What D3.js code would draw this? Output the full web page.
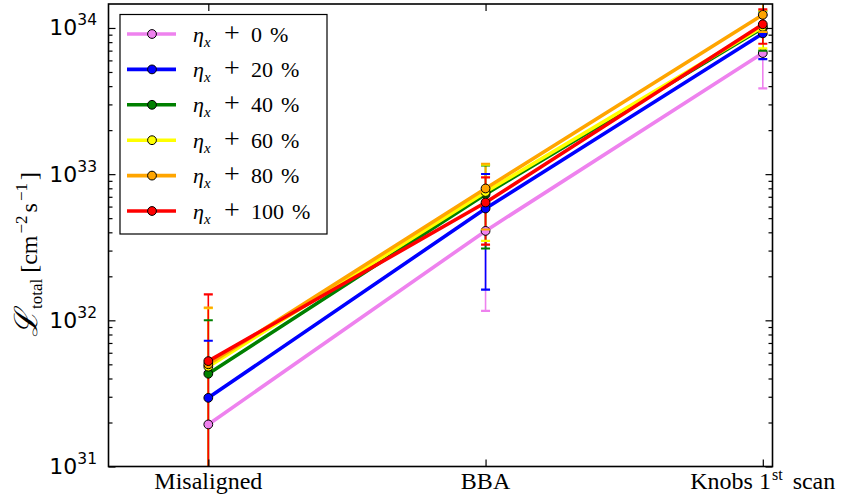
<!DOCTYPE html>
<html><head><meta charset="utf-8">
<script src="https://cdn.jsdelivr.net/npm/d3@7"></script>
<style>body{margin:0;background:#fff} svg{display:block}</style>
</head><body><svg id="c" width="842" height="498"></svg>
<script>
// ---- data ----
const categories = ["Misaligned", "BBA", "Knobs 1st scan"];
const seriesLabels = ["0", "20", "40", "60", "80", "100"];
const seriesColors = ["#ee82ee", "#0000ff", "#008000", "#ffff00", "#ffa500", "#ff0000"];
const lum0   = [1.94e31, 4.09e32, 6.74e33];
const lum20  = [2.95e31, 5.82e32, 9.18e33];
const lum40  = [4.31e31, 7.30e32, 1.00e34];
const lum60  = [4.82e31, 7.55e32, 1.02e34];
const lum80  = [5.00e31, 7.98e32, 1.23e34];
const lum100 = [5.26e31, 6.40e32, 1.06e34];
const err0   = [2.5e31, 2.93e32, 2.88e33];
const err20  = [4.3e31, 4.20e32, 3.05e33];
const err40  = [5.7e31, 4.20e32, 3.00e33];
const err60  = [7.3e31, 4.05e32, 2.95e33];
const err80  = [7.2e31, 3.80e32, 2.90e33];
const err100 = [9.8e31, 3.10e32, 2.80e33];
const yMajorTicks = [1e31, 1e32, 1e33, 1e34];
const yTickExponents = ["31", "32", "33", "34"];

const values = [lum0, lum20, lum40, lum60, lum80, lum100];
const errors = [err0, err20, err40, err60, err80, err100];
const series = seriesLabels.map((l, i) => ({label: l, color: seriesColors[i],
  pts: categories.map((c, j) => ({i: j, v: values[i][j], e: errors[i][j]}))}));

// ---- layout ----
const L = 108.5, R = 772.5, T = 4, B = 466.5;
const svg = d3.select("#c");
const x = d3.scaleLinear().domain([-0.36, 2.035]).range([L, R]);
const y = d3.scaleLog().domain([1e31, Math.pow(10, 34.164)]).range([B, T]);

svg.append("defs").append("clipPath").attr("id", "clip")
  .append("rect").attr("x", L).attr("y", T).attr("width", R - L).attr("height", B - T);

const plot = svg.append("g").attr("clip-path", "url(#clip)");

// error bar stems (below everything)
series.forEach(s => {
  plot.append("g").selectAll("line").data(s.pts).join("line")
    .attr("x1", d => x(d.i)).attr("x2", d => x(d.i))
    .attr("y1", d => y(d.v + d.e))
    .attr("y2", d => d.v - d.e > 0 ? y(d.v - d.e) : B + 5)
    .attr("stroke", s.color).attr("stroke-width", 1.6);
});

const line = d3.line().x(d => x(d.i)).y(d => y(d.v));
series.forEach(s => {
  plot.append("path").datum(s.pts).attr("d", line)
    .attr("fill", "none").attr("stroke", s.color).attr("stroke-width", 3.6);
  plot.append("g").selectAll("circle").data(s.pts).join("circle")
    .attr("cx", d => x(d.i)).attr("cy", d => y(d.v)).attr("r", 4.4)
    .attr("fill", s.color).attr("stroke", "#000").attr("stroke-width", 1);
  const caps = [];
  s.pts.forEach(d => {
    caps.push({i: d.i, v: d.v + d.e});
    if (d.v - d.e > 0) caps.push({i: d.i, v: d.v - d.e});
  });
  plot.append("g").selectAll("line").data(caps).join("line")
    .attr("x1", d => x(d.i) - 4.5).attr("x2", d => x(d.i) + 4.5)
    .attr("y1", d => y(d.v)).attr("y2", d => y(d.v))
    .attr("stroke", s.color).attr("stroke-width", 2.2);
});

// ---- axes (inward ticks) ----
const minor = [];
for (let e = 31; e <= 34; e++) for (let k = 2; k <= 9; k++) {
  const v = k * Math.pow(10, e);
  if (v < y.domain()[1]) minor.push(v);
}
function styleAxis(g) { g.select(".domain").remove(); g.selectAll("line").attr("stroke", "#000").attr("stroke-width", 1.2); g.selectAll("text").remove(); }
svg.append("g").attr("transform", `translate(${L},0)`).call(d3.axisLeft(y).tickValues(yMajorTicks).tickSize(-7)).call(styleAxis);
svg.append("g").attr("transform", `translate(${L},0)`).call(d3.axisLeft(y).tickValues(minor).tickSize(-4)).call(styleAxis);
svg.append("g").attr("transform", `translate(${R},0)`).call(d3.axisRight(y).tickValues(yMajorTicks).tickSize(-7)).call(styleAxis);
svg.append("g").attr("transform", `translate(${R},0)`).call(d3.axisRight(y).tickValues(minor).tickSize(-4)).call(styleAxis);
svg.append("g").attr("transform", `translate(0,${B})`).call(d3.axisBottom(x).tickValues([0, 1, 2]).tickSize(-7)).call(styleAxis);
svg.append("g").attr("transform", `translate(0,${T})`).call(d3.axisTop(x).tickValues([0, 1, 2]).tickSize(-7)).call(styleAxis);

svg.append("rect").attr("x", L).attr("y", T).attr("width", R - L).attr("height", B - T)
  .attr("fill", "none").attr("stroke", "#000").attr("stroke-width", 1.6);

// y tick labels
yMajorTicks.forEach((v, k) => {
  const t = svg.append("text").attr("x", 97).attr("y", y(v) + 7.5)
    .attr("text-anchor", "end").attr("font-family", "DejaVu Sans").attr("font-size", 22).attr("fill", "#000");
  t.append("tspan").text("10");
  t.append("tspan").attr("font-size", 15.5).attr("dy", -10).text(yTickExponents[k]);
});

// x tick labels
const serif = "'Liberation Serif', 'DejaVu Serif', serif";
categories.forEach((c, j) => {
  const t = svg.append("text").attr("x", x(j)).attr("y", 489).attr("text-anchor", "middle")
    .attr("font-family", serif).attr("font-size", 24).attr("fill", "#000");
  if (c === "Knobs 1st scan") {
    t.append("tspan").text("Knobs 1");
    t.append("tspan").attr("font-size", 16).attr("dy", -9).attr("dx", 1).text("st");
    t.append("tspan").attr("dy", 9).attr("dx", 10).text("scan");
  } else t.text(c);
});

// y label
const yl = svg.append("text").attr("transform", "translate(37,337) rotate(-90)")
  .attr("text-anchor", "start").attr("font-family", serif).attr("font-size", 24).attr("fill", "#000");
yl.append("tspan").attr("font-style", "italic").attr("font-size", 32).text("\u2112");
yl.append("tspan").attr("font-size", 17).attr("dy", 5).attr("dx", 1).text("total");
yl.append("tspan").attr("dy", -5).attr("dx", 6).text("[cm");
yl.append("tspan").attr("font-size", 17).attr("dy", -10).attr("dx", 2).text("\u22122");
yl.append("tspan").attr("dy", 10).attr("dx", 3).text("s");
yl.append("tspan").attr("font-size", 17).attr("dy", -10).attr("dx", 2).text("\u22121");
yl.append("tspan").attr("dy", 10).attr("dx", 3).text("]");

// ---- legend ----
const lg = svg.append("g");
lg.append("rect").attr("x", 120).attr("y", 14.5).attr("width", 207).attr("height", 219.5)
  .attr("fill", "#fff").attr("stroke", "#000").attr("stroke-width", 1.2);
series.forEach((s, k) => {
  const cy = 34 + k * 35.4;
  lg.append("line").attr("x1", 127).attr("x2", 176).attr("y1", cy).attr("y2", cy)
    .attr("stroke", s.color).attr("stroke-width", 3.6);
  lg.append("circle").attr("cx", 152).attr("cy", cy).attr("r", 4.4)
    .attr("fill", s.color).attr("stroke", "#000").attr("stroke-width", 1);
  const t = lg.append("text").attr("x", 193).attr("y", cy + 7.5)
    .attr("font-family", serif).attr("font-size", 22).attr("fill", "#000");
  t.append("tspan").attr("font-style", "italic").text("\u03b7");
  t.append("tspan").attr("font-style", "italic").attr("font-size", 15).attr("dy", 5).text("x");
  t.append("tspan").attr("dy", -5).attr("x", 224).attr("font-size", 28).text("+");
  t.append("tspan").attr("x", 251).text(s.label);
  t.append("tspan").attr("dx", 8).text("%");
});
</script></body></html>
